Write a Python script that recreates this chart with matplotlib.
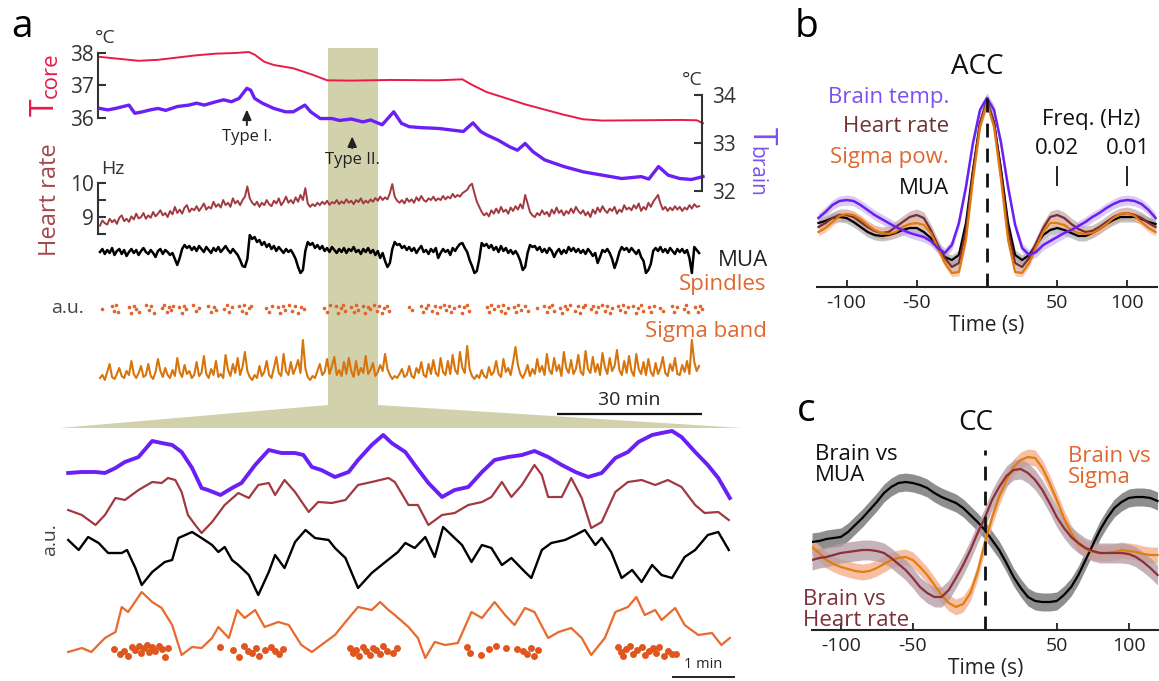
import matplotlib
matplotlib.use('Agg')
import matplotlib.pyplot as plt
from matplotlib.patches import Polygon

plt.rcParams['font.family'] = ['Open Sans', 'DejaVu Sans']
plt.rcParams['axes.unicode_minus'] = False

W, H = 1159, 681

# ---------------- panel a, top: 2 h recording (minutes) ----------------
tcore_t = [0, 4, 8, 12, 16, 20, 24, 28, 30.8, 32, 34, 36, 40, 44, 47, 52, 60, 70, 75, 77, 80,
           88, 96, 100, 104, 112, 120, 123.5, 124.8]
tcore_v = [37.88, 37.82, 37.76, 37.79, 37.86, 37.93, 37.98, 38.0, 38.03, 37.95, 37.73, 37.63,
           37.53, 37.33, 37.16, 37.15, 37.17, 37.16, 37.19, 37.02, 36.8, 36.42, 36.1, 35.96,
           35.92, 35.93, 35.94, 35.93, 35.84]

tbrain_t = [0, 1.6, 3.2, 4.8, 6.0, 7.2, 8.8, 10.4, 12.0, 13.6, 16.0, 18.4, 20.0, 21.6, 24.0,
            25.6, 27.2, 28.8, 30.4, 31.2, 32.0, 33.6, 36.0, 38.4, 40.0, 42.4, 43.6, 45.6, 48.0,
            49.6, 52.0, 54.4, 56.0, 58.4, 60.8, 62.4, 64.0, 66.4, 68.8, 70.4, 72.8, 75.2, 77.2,
            78.8, 80.0, 82.4, 84.8, 86.4, 88.0, 89.6, 92.0, 96.0, 100.0, 104.0, 108.0, 112.0,
            113.6, 115.6, 117.6, 120.0, 122.4, 124.8]
tbrain_v = [33.72, 33.69, 33.72, 33.76, 33.79, 33.62, 33.65, 33.69, 33.72, 33.68, 33.76, 33.79,
            33.83, 33.79, 33.86, 33.9, 33.86, 33.93, 34.14, 34.1, 33.93, 33.83, 33.72, 33.65,
            33.65, 33.79, 33.65, 33.51, 33.51, 33.47, 33.5, 33.44, 33.48, 33.38, 33.65, 33.41,
            33.34, 33.32, 33.31, 33.3, 33.27, 33.24, 33.42, 33.24, 33.17, 33.06, 32.92, 32.85,
            32.99, 32.82, 32.65, 32.51, 32.4, 32.33, 32.26, 32.3, 32.25, 32.51, 32.33, 32.26,
            32.24, 32.3]

half_minutes = [i * 0.5 for i in range(249)]
heart_hz = [8.75, 8.9, 8.82, 8.78, 8.95, 8.85, 8.92, 8.8, 8.98, 9.05, 8.88, 8.95, 8.86, 9.02, 8.93, 9.1, 8.96, 9.0, 9.12, 8.95,
            9.05, 8.98, 9.15, 9.02, 9.1, 9.2, 9.05, 9.12, 9.0, 9.18, 9.08, 9.3, 9.12, 9.22, 9.1, 9.28, 9.35, 9.15, 9.25, 9.2,
            9.32, 9.18, 9.28, 9.4, 9.22, 9.3, 9.25, 9.45, 9.3, 9.38, 9.28, 9.5, 9.35, 9.42, 9.3, 9.55, 9.4, 9.48, 9.35, 9.5,
            9.6, 9.9, 9.55, 9.42, 9.35, 9.45, 9.3, 9.42, 9.35, 9.5, 9.38, 9.32, 9.48, 9.4, 9.55, 9.35, 9.45, 9.6, 9.42, 9.5,
            9.4, 9.58, 9.45, 9.65, 9.5, 9.85, 9.4, 9.3, 9.38, 9.32, 9.42, 9.35, 9.45, 9.38, 9.48, 9.36, 9.44, 9.4, 9.5, 9.38,
            9.46, 9.4, 9.52, 9.42, 9.48, 9.38, 9.5, 9.44, 9.55, 9.4, 9.48, 9.42, 9.52, 9.45, 9.56, 9.48, 9.6, 9.5, 9.58, 9.52,
            9.7, 9.97, 9.6, 9.48, 9.42, 9.5, 9.4, 9.55, 9.45, 9.52, 9.42, 9.58, 9.48, 9.62, 9.5, 9.45, 9.55, 9.5, 9.6, 9.48,
            9.55, 9.5, 9.62, 9.52, 9.6, 9.55, 9.68, 9.58, 9.65, 9.6, 9.7, 9.75, 9.8, 9.92, 9.98, 9.7, 9.45, 9.3, 9.15, 9.05,
            9.12, 9.02, 9.2, 9.1, 9.25, 9.12, 9.3, 9.15, 9.22, 9.1, 9.28, 9.18, 9.32, 9.22, 9.38, 9.25, 9.65, 9.4, 9.15, 9.05,
            9.0, 9.12, 9.05, 9.2, 9.08, 9.15, 9.02, 9.22, 9.1, 9.28, 9.12, 9.2, 9.05, 9.18, 9.1, 9.25, 9.12, 9.3, 9.18, 9.1,
            9.2, 9.05, 9.15, 9.0, 9.22, 9.1, 9.28, 9.15, 9.32, 9.2, 9.12, 9.25, 9.18, 9.3, 9.1, 9.22, 9.15, 9.35, 9.22, 9.28,
            9.2, 9.35, 9.25, 9.4, 9.18, 9.3, 9.22, 9.42, 9.3, 9.45, 9.55, 9.65, 9.4, 9.22, 9.3, 9.18, 9.28, 9.2, 9.32, 9.22,
            9.3, 9.18, 9.28, 9.22, 9.35, 9.25, 9.38, 9.3, 9.32]

mua = [0.3, 0.6, 0.1, 0.5, 0.2, 0.7, 0.0, 0.4, 0.6, 0.1, 0.5, -0.1, 0.3, 0.6, 0.2, 0.5, 0.0, 0.4, 0.7, 0.3,
       0.1, 0.5, 0.2, -0.2, 0.4, 0.6, 0.1, 0.5, 0.3, 0.0, 0.2, -0.4, -1.0, -0.3, 0.6, 1.0, 0.7, 0.9, 0.5, 0.8,
       0.4, 0.9, 0.6, 0.3, 0.8, 0.5, 0.2, 0.7, 0.4, 0.8, 0.3, 0.6, 0.9, 0.5, 0.2, 0.6, 0.3, 0.0, -0.5, -1.1,
       -1.2, -0.4, 2.0, 1.6, 1.8, 1.3, 1.5, 1.0, 1.3, 0.8, 1.1, 0.6, 0.9, 0.4, 0.8, 0.5, 0.2, 0.6, 0.3, 0.5,
       0.1, -0.4, -1.2, -1.8, -1.5, 0.4, 1.3, 1.0, 1.2, 0.7, 1.0, 0.6, 0.9, 0.4, 0.7, 0.3, 0.8, 0.5, 0.2, 0.6,
       0.3, 0.7, 0.2, 0.6, 0.4, 0.8, 0.3, 0.5, 0.1, 0.6, 0.3, 0.7, 0.2, 0.5, 0.0, 0.4, -0.3, 0.2, -0.6, -1.2,
       -0.8, 0.6, 1.3, 1.0, 1.1, 0.7, 0.9, 0.5, 0.8, 0.4, 0.7, 0.2, 0.6, 0.9, 0.3, 0.5, 0.1, 0.6, 0.3, 0.7,
       -0.3, 0.2, 0.6, 0.3, 0.5, 0.0, 0.7, 0.4, 0.8, 1.1, 1.2, 0.7, 0.3, -0.5, -1.1, -1.8, -1.6, -0.4, 1.2, 0.9,
       1.1, 0.7, 1.0, 0.5, 0.8, 0.3, 0.9, 0.4, 0.7, 0.2, 0.5, 0.1, 0.4, 0.0, -0.6, -1.5, -1.2, 0.2, 1.0, 0.8,
       0.9, 0.5, 0.8, 0.3, 0.6, 0.2, 0.7, 0.4, -0.2, 0.3, 0.6, 0.1, 0.5, 0.2, 0.8, 0.4, 0.7, 0.3, 0.6, 0.2,
       0.5, 0.1, 0.6, 0.3, -0.1, 0.2, -0.8, -0.2, 0.5, 0.3, 0.6, 0.2, -0.4, -1.3, -0.6, 0.3, 0.8, 0.5, 0.7, 0.3,
       0.7, 0.4, 0.1, 0.5, -0.2, -0.6, -1.8, -1.5, -0.9, 0.4, 0.7, 0.4, 0.8, 0.3, 0.6, 0.2, 0.7, 0.4, 0.1, 0.6,
       0.3, 0.6, 0.2, 0.5, -0.3, -1.8, 0.8, 0.5, 0.2]

sigma = [0.2, 0.5, 0.0, 0.8, 1.6, 0.3, 0.1, 0.6, 1.2, 0.4, 0.2, 0.9, 0.5, 1.9, 0.6, 0.2, 0.7, 1.4, 0.3, 0.5,
         1.6, 0.4, 0.1, 0.8, 2.1, 0.9, 0.3, 1.2, 0.5, 0.2, 1.0, 0.4, 2.2, 0.8, 0.3, 1.5, 0.6, 0.9, 0.2, 0.5,
         1.8, 0.4, 0.7, 2.4, 0.6, 0.2, 1.1, 0.5, 1.9, 0.3, 0.6, 0.2, 2.5, 1.0, 0.4, 1.6, 0.7, 2.2, 0.5, 1.3,
         2.8, 0.9, 0.3, 0.0, 0.5, 0.2, 1.4, 0.4, 0.8, 1.9, 0.5, 0.2, 1.2, 2.3, 0.7, 0.4, 2.6, 0.9, 0.5, 1.8,
         0.6, 1.2, 2.0, 0.7, 4.0, 1.2, 0.3, 0.0, 0.4, 0.2, 0.9, 1.6, 0.5, 0.8, 2.1, 0.6, 1.4, 2.3, 0.5, 1.0,
         0.4, 1.8, 0.6, 2.2, 0.9, 0.3, 1.9, 0.5, 1.2, 0.7, 2.4, 0.6, 1.0, 1.7, 0.4, 0.8, 1.5, 0.9, 2.6, 1.1,
         0.5, 0.1, 0.4, 0.2, 0.6, 1.1, 0.3, 0.5, 1.4, 0.4, 0.2, 1.2, 0.7, 1.8, 0.5, 0.3, 1.6, 0.6, 2.0, 0.7,
         0.4, 2.2, 0.8, 0.5, 1.9, 0.6, 2.5, 1.0, 0.6, 2.8, 1.2, 0.7, 3.4, 1.1, 0.4, 0.1, 0.5, 0.2, 1.0, 0.4,
         0.2, 1.3, 0.5, 0.8, 1.9, 0.6, 0.3, 2.1, 0.8, 1.2, 0.5, 1.8, 3.3, 1.5, 0.6, 0.2, 0.7, 1.5, 0.4, 1.1,
         0.6, 2.1, 0.8, 1.4, 0.5, 2.6, 1.0, 0.6, 2.2, 0.9, 1.5, 0.4, 2.8, 1.2, 0.7, 2.0, 0.6, 1.1, 2.5, 0.8,
         0.5, 2.9, 1.1, 0.7, 2.3, 0.8, 1.6, 0.5, 2.7, 1.3, 0.6, 2.2, 0.9, 1.4, 3.0, 1.0, 0.5, 1.9, 0.7, 2.4,
         0.9, 0.4, 2.6, 1.1, 0.6, 1.8, 0.5, 2.1, 0.8, 0.4, 1.7, 0.6, 1.2, 2.3, 0.7, 0.4, 1.6, 0.9, 2.2, 0.6,
         0.5, 1.5, 0.8, 1.9, 0.6, 4.0, 1.8, 0.9, 1.4]

spindle_t = [0.4, 2.4, 2.9, 3.4, 3.8, 6.0, 6.5, 7.0, 7.5, 8.0, 9.6, 10.1, 10.6, 11.1,
             12.8, 13.3, 13.8, 14.3, 14.8, 15.2, 16.4, 16.9, 17.4, 17.9, 19.2, 19.8, 20.4,
             22.4, 22.9, 23.5, 24.0, 25.6, 26.2, 26.8, 27.4, 28.8, 29.3, 29.8, 30.3, 30.8, 31.3,
             34.4, 35.0, 35.6, 36.8, 37.3, 37.8, 38.3, 39.2, 39.8, 40.4, 41.0, 41.6, 42.2,
             46.4, 47.0, 47.6, 48.8, 49.3, 49.8, 50.3, 50.8, 52.0, 52.5, 53.0, 53.5,
             54.4, 54.9, 55.4, 55.9, 56.8, 57.3, 57.8, 58.3, 58.8, 59.4, 59.9, 64.0, 64.6,
             66.4, 66.9, 67.4, 67.9, 68.8, 69.3, 69.8, 70.3, 71.2, 71.7, 72.2, 72.7, 73.2,
             74.4, 74.9, 75.4, 75.9, 76.4, 80.0, 80.5, 81.0, 81.5, 82.4, 82.9, 83.4, 83.9, 84.4,
             85.6, 86.1, 86.6, 87.1, 88.0, 88.6, 90.4, 92.0, 92.5, 93.0, 93.5, 94.0,
             95.2, 95.7, 96.2, 96.7, 97.2, 98.4, 98.9, 99.4, 99.9, 100.4, 101.6, 102.1, 102.6, 103.1,
             104.0, 104.5, 105.0, 105.5, 106.0, 107.2, 107.7, 108.2, 108.7, 109.2,
             110.4, 110.9, 111.4, 111.9, 112.4, 113.6, 114.1, 114.6, 116.0, 116.6,
             118.4, 118.9, 119.4, 120.8, 121.3, 121.8, 123.2, 123.7, 124.2, 124.6]
spindle_y = [0.0, 0.3, -0.2, 0.4, -0.3, 0.2, -0.4, 0.3, 0.0, -0.3, 0.4, -0.1, 0.3, -0.4,
             0.1, 0.4, -0.3, 0.2, -0.1, 0.3, 0.2, -0.4, 0.3, 0.0, 0.4, -0.2, 0.1,
             0.3, -0.3, 0.2, -0.1, 0.0, 0.4, -0.3, 0.2, 0.3, -0.2, 0.4, -0.4, 0.1, 0.3,
             0.1, -0.3, 0.3, 0.2, -0.4, 0.3, -0.1, 0.4, -0.2, 0.3, -0.4, 0.2, 0.0,
             0.1, -0.3, 0.4, 0.3, -0.4, 0.1, 0.4, -0.2, 0.2, -0.3, 0.4, -0.1,
             0.3, -0.4, 0.2, 0.0, 0.4, -0.2, 0.3, -0.4, 0.1, 0.3, -0.2, 0.2, -0.1,
             0.3, -0.3, 0.1, 0.4, -0.2, 0.3, -0.4, 0.2, 0.4, -0.1, 0.3, -0.3, 0.1,
             0.3, -0.4, 0.2, 0.4, -0.2, 0.2, -0.3, 0.4, 0.0, 0.3, -0.2, 0.4, -0.4, 0.1,
             0.2, -0.3, 0.4, -0.1, 0.3, -0.2, 0.1, 0.3, -0.3, 0.2, 0.4, -0.2,
             0.1, -0.4, 0.3, 0.0, 0.4, -0.2, 0.3, -0.4, 0.2, 0.4, 0.0, 0.3, -0.3, 0.2,
             0.4, -0.2, 0.3, -0.4, 0.1, 0.3, -0.1, 0.4, -0.3, 0.2,
             0.3, -0.4, 0.1, 0.4, -0.2, 0.2, -0.3, 0.3, 0.1, -0.2,
             0.3, -0.3, 0.2, 0.0, 0.4, -0.3, 0.2, -0.3, 0.3, 0.0]

zoom_window = (47.2, 57.6)   # minutes shown enlarged below

# ---------------- panel a, bottom: 10 min zoom (seconds) ----------------
purple_t = [3, 16, 29, 38, 48, 57, 70, 83, 92, 102, 111, 121, 130, 136, 148, 159, 168, 181, 194,
            206, 219, 227, 235, 244, 257, 270, 279, 292, 303, 311, 324, 333, 346, 359, 371, 384,
            397, 409, 422, 435, 447, 460, 473, 486, 498, 511, 524, 536, 546, 559, 568, 578, 587,
            600, 612, 622, 633]
purple_v = [-0.8, -0.7, -0.7, -0.8, -0.3, 0.3, 0.8, 2.4, 2.2, 2.0, 1.3, -0.3, -2.3, -2.5, -3.0,
            -2.3, -1.8, 0.0, 1.5, 1.2, 1.2, 1.0, -0.2, -0.5, -1.2, -0.7, 0.5, 2.0, 3.0, 2.2,
            1.3, 0.0, -1.8, -3.2, -2.5, -2.2, -0.7, 0.5, 0.8, 1.0, 1.4, 0.8, 0.0, -0.7, -1.2,
            -0.8, 0.7, 1.3, 2.3, 3.0, 3.2, 3.4, 2.8, 1.3, 0.0, -1.3, -3.3]

brown_t = [3, 16, 29, 38, 48, 57, 70, 83, 92, 98, 105, 111, 117, 124, 130, 140, 152, 165, 175,
           184, 194, 200, 209, 219, 232, 241, 254, 267, 279, 292, 308, 314, 327, 336, 346, 359,
           371, 384, 397, 406, 416, 425, 435, 447, 454, 460, 473, 482, 492, 501, 511, 524, 536,
           549, 562, 574, 587, 600, 609, 622, 632]
brown_v = [-1.0, -1.5, -2.5, -1.5, 0.2, 0.0, 1.0, 1.8, 1.7, 2.2, 2.0, 0.8, -1.5, -2.5, -3.3,
           -2.2, -0.5, 0.7, 0.2, 1.5, 1.7, 0.5, 2.0, 0.8, -1.2, -0.2, -0.3, 0.0, 1.5, 1.8,
           2.2, 1.8, -0.5, -0.5, -2.5, -1.5, -1.3, -0.5, -0.2, 0.3, 1.8, 0.3, 1.5, 3.5, 2.5,
           0.3, 0.3, 2.2, 0.2, -2.8, -2.2, 0.8, 1.8, 2.0, 1.5, 2.0, 1.3, -0.5, -1.3, -1.2, -2.0]

black_t = [3, 13, 22, 32, 41, 54, 59, 67, 73, 83, 95, 102, 108, 121, 130, 140, 146, 152, 159,
           165, 175, 184, 194, 200, 209, 219, 229, 238, 251, 257, 267, 279, 292, 305, 317, 324,
           333, 343, 352, 360, 368, 378, 387, 397, 406, 416, 425, 438, 444, 454, 463, 476, 486,
           495, 505, 511, 520, 530, 540, 549, 559, 568, 578, 590, 600, 612, 622, 632]
black_v = [2.0, 1.0, 2.3, 1.7, 0.7, 0.7, 1.0, -0.8, -2.5, -1.2, -0.2, 0.0, 2.2, 2.8, 2.2, 1.5,
           0.8, 1.3, 0.0, -0.5, -1.5, -3.5, -1.2, 0.5, -0.8, 1.8, 3.0, 2.2, 2.0, 1.2, 0.2, -2.8,
           -1.3, -0.2, 0.8, 1.7, 1.2, 2.3, 0.3, 3.3, 2.5, 1.5, -0.2, 1.5, 1.2, -0.5, 0.2, -1.2,
           -1.8, 1.0, 1.7, 2.0, 2.5, 3.0, 1.5, 2.2, 0.8, -1.8, -1.0, -2.2, -0.5, -1.5, -1.8,
           0.3, 1.0, 2.5, 2.8, 1.0]

orange_t = [3, 16, 25, 38, 48, 54, 60, 73, 83, 92, 102, 111, 121, 130, 140, 146, 156, 164, 171,
            181, 190, 203, 213, 225, 235, 244, 257, 267, 279, 292, 300, 308, 314, 327, 336, 343,
            352, 362, 374, 387, 397, 409, 419, 428, 438, 447, 460, 470, 482, 492, 501, 514, 524,
            536, 544, 552, 562, 568, 581, 590, 603, 616, 625, 633]
orange_v = [-2.7, -2.3, -2.7, -1.3, -0.7, 1.8, 1.3, 3.3, 2.3, 1.7, 0.0, -3.0, -2.2, -2.3, -1.3,
            -0.2, -1.3, 1.5, 0.7, 1.5, -0.2, 0.3, 0.0, -2.0, -2.7, -2.0, -1.0, 0.3, 1.8, 1.5,
            2.3, 1.5, 1.0, -0.2, -1.3, -3.3, -1.7, -2.0, -1.8, 1.3, 0.7, 2.3, 1.0, 0.0, 1.7,
            1.3, -1.3, -0.7, -0.3, -1.3, -3.0, -1.3, 1.3, 1.8, 2.8, 1.0, 1.5, 0.5, 1.7, 0.0,
            -1.0, -0.8, -2.0, -1.3]

zspindle_t = [47, 52, 56, 60, 64, 67, 70, 72, 75, 78, 80, 83, 86, 89, 92, 95, 98,
              148, 160, 166, 170, 174, 178, 182, 185, 190, 196, 200, 204, 208,
              271, 274, 277, 280, 284, 287, 290, 293, 296, 300, 303, 307, 312, 316,
              383, 386, 396, 404, 410, 420, 430, 436, 440, 444, 447, 450,
              527, 529, 531, 534, 538, 541, 545, 549, 552, 556, 560, 563, 566, 570, 574, 578, 582]
zspindle_y = [0.2, -0.3, 0.0, -0.5, 0.4, 0.1, 0.5, -0.2, 0.3, 0.6, -0.1, 0.4, 0.0, 0.5, 0.2, -0.6, 0.3,
              0.4, 0.1, -0.6, 0.5, 0.0, -0.2, 0.3, -0.5, 0.1, 0.4, 0.0, -0.3, 0.2,
              0.3, -0.2, 0.1, -0.5, 0.4, 0.0, -0.4, 0.3, 0.1, -0.3, 0.5, 0.0, -0.2, 0.3,
              0.4, -0.2, -0.4, 0.2, 0.5, 0.3, 0.2, 0.0, -0.3, 0.3, -0.5, 0.1,
              0.4, -0.1, -0.5, 0.2, 0.5, -0.3, 0.1, 0.4, -0.4, 0.0, 0.3, -0.2, 0.4, -0.5, 0.0, -0.3, -0.3]

# ---------------- panels b and c: lags (s) ----------------
lags = list(range(-120, 121, 5))
acc_brain = [-0.18, -0.12, -0.05, -0.01, 0.0, -0.01, -0.05, -0.10, -0.15, -0.19, -0.23, -0.27,
             -0.30, -0.33, -0.35, -0.37, -0.41, -0.48, -0.53, -0.45, -0.23, 0.13, 0.57, 0.90,
             1.02, 0.90, 0.57, 0.13, -0.25, -0.48, -0.55, -0.52, -0.45, -0.41, -0.37, -0.33,
             -0.30, -0.26, -0.22, -0.17, -0.13, -0.08, -0.04, -0.01, 0.0, -0.01, -0.04, -0.10, -0.18]
acc_heart = [-0.27, -0.23, -0.18, -0.15, -0.15, -0.17, -0.22, -0.27, -0.31, -0.33, -0.32, -0.27,
             -0.22, -0.17, -0.15, -0.18, -0.30, -0.45, -0.58, -0.67, -0.63, -0.30, 0.27, 0.77,
             1.00, 0.77, 0.27, -0.30, -0.63, -0.67, -0.58, -0.43, -0.28, -0.17, -0.15, -0.18,
             -0.24, -0.29, -0.32, -0.31, -0.27, -0.22, -0.17, -0.14, -0.13, -0.15, -0.18, -0.23, -0.27]
acc_sigma = [-0.32, -0.28, -0.22, -0.16, -0.14, -0.15, -0.19, -0.25, -0.30, -0.33, -0.34, -0.32,
             -0.27, -0.24, -0.23, -0.25, -0.33, -0.48, -0.63, -0.73, -0.72, -0.40, 0.20, 0.73,
             0.97, 0.73, 0.20, -0.40, -0.72, -0.73, -0.63, -0.47, -0.32, -0.23, -0.23, -0.25,
             -0.30, -0.33, -0.34, -0.33, -0.29, -0.24, -0.18, -0.14, -0.13, -0.16, -0.22, -0.28, -0.32]
acc_mua = [-0.23, -0.21, -0.18, -0.17, -0.18, -0.22, -0.27, -0.32, -0.35, -0.36, -0.35, -0.33,
           -0.30, -0.28, -0.28, -0.32, -0.38, -0.48, -0.57, -0.60, -0.55, -0.23, 0.30, 0.77,
           0.98, 0.77, 0.30, -0.23, -0.55, -0.60, -0.55, -0.45, -0.35, -0.30, -0.28, -0.30,
           -0.33, -0.36, -0.36, -0.33, -0.29, -0.24, -0.20, -0.17, -0.17, -0.17, -0.19, -0.22, -0.24]
acc_err = {'brain': 0.05, 'heart': 0.06, 'sigma': 0.04, 'mua': 0.05}

cc_mua = [-0.07, -0.06, -0.04, -0.03, -0.02, 0.03, 0.10, 0.17, 0.25, 0.33, 0.42, 0.48, 0.52,
          0.53, 0.52, 0.50, 0.47, 0.42, 0.38, 0.35, 0.32, 0.27, 0.20, 0.13, 0.05, -0.05, -0.15,
          -0.28, -0.42, -0.53, -0.62, -0.66, -0.67, -0.67, -0.66, -0.60, -0.52, -0.40, -0.25,
          -0.10, 0.05, 0.17, 0.27, 0.33, 0.37, 0.38, 0.38, 0.37, 0.34]
cc_sigma = [-0.12, -0.18, -0.25, -0.29, -0.32, -0.34, -0.36, -0.37, -0.36, -0.33, -0.29, -0.25,
            -0.23, -0.22, -0.25, -0.32, -0.40, -0.50, -0.60, -0.68, -0.72, -0.69, -0.58, -0.37,
            -0.08, 0.17, 0.38, 0.55, 0.68, 0.75, 0.78, 0.77, 0.67, 0.52, 0.35, 0.17, 0.02, -0.09,
            -0.14, -0.17, -0.18, -0.18, -0.17, -0.15, -0.16, -0.17, -0.19, -0.20, -0.20]
cc_heart = [-0.25, -0.23, -0.22, -0.20, -0.18, -0.17, -0.16, -0.15, -0.15, -0.16, -0.18, -0.23,
            -0.29, -0.35, -0.43, -0.52, -0.58, -0.62, -0.62, -0.55, -0.43, -0.30, -0.15, 0.02,
            0.17, 0.35, 0.48, 0.59, 0.65, 0.66, 0.62, 0.55, 0.45, 0.32, 0.18, 0.07, -0.02, -0.08,
            -0.13, -0.16, -0.18, -0.18, -0.18, -0.18, -0.19, -0.22, -0.27, -0.33, -0.40]
cc_err = {'mua': 0.09, 'sigma': 0.08, 'heart': 0.10}

# ---------------- colours ----------------
c_core = '#ea1a47'
c_brain = '#6a1ff5'
c_brain_txt = '#7a50f2'
c_heart = '#a13a40'
c_heart_dark = '#7a2c30'
c_sigma = '#d8740c'
c_spin = '#e0652c'
c_orange_txt = '#e0672e'
c_zsigma = '#e86a2c'
c_khaki = '#d1d1ac'
c_axis = '#333333'

fig = plt.figure(figsize=(W / 100, H / 100), dpi=100)


def box(x0, y0, x1, y1, z=1):
    a = fig.add_axes([x0 / W, 1 - y1 / H, (x1 - x0) / W, (y1 - y0) / H], zorder=z)
    a.patch.set_alpha(0)
    return a


def ftext(x, y, s, **kw):
    fig.text(x / W, 1 - y / H, s, **kw)


def clean(a, keep=()):
    for k in ['left', 'right', 'top', 'bottom']:
        a.spines[k].set_visible(k in keep)
        a.spines[k].set_color(c_axis)
        a.spines[k].set_linewidth(1.5)
    a.set_xticks([])


tlim = (-0.41, 124.6)

# shaded window behind the top traces
ax_sh = box(98, 48, 702, 405, z=0)
ax_sh.set_xlim(tlim)
ax_sh.set_ylim(0, 1)
ax_sh.axis('off')
ax_sh.axvspan(*zoom_window, color=c_khaki, lw=0)

# temperatures
ax_t = box(98, 40, 702, 195)
ax_t.set_xlim(tlim)
ax_t.set_ylim(33.63, 38.4)
clean(ax_t, keep=('left',))
ax_t.spines['left'].set_bounds(36, 38)
ax_t.set_yticks([36, 37, 38])
ax_t.tick_params(axis='y', direction='in', length=6, width=1.5, color=c_axis,
                 labelsize=15, labelcolor=c_axis, pad=3)
ax_t.plot(tcore_t, tcore_v, color=c_core, lw=1.4, clip_on=False)

ax_tb = ax_t.twinx()
ax_tb.set_xlim(tlim)
ax_tb.set_ylim(31.917, 35.146)
clean(ax_tb, keep=('right',))
ax_tb.spines['right'].set_bounds(32, 34)
ax_tb.set_yticks([32, 33, 34])
ax_tb.tick_params(axis='y', direction='in', length=6, width=1.5, color=c_axis,
                  labelsize=15, labelcolor=c_axis, pad=7)
ax_tb.plot(tbrain_t, tbrain_v, color=c_brain, lw=2.4, clip_on=False)

arrow = dict(arrowstyle='-|>,head_length=0.5,head_width=0.22', color='#222222', lw=1.4,
             shrinkA=1, shrinkB=0)
ax_tb.annotate('Type I.', xy=(30.4, 33.7), xytext=(30.4, 33.12), ha='center', va='center',
               fontsize=12, color='#222222', arrowprops=arrow)
ax_tb.annotate('Type II.', xy=(52.2, 33.14), xytext=(52.2, 32.64), ha='center', va='center',
               fontsize=12, color='#222222', arrowprops=arrow)

# heart rate
ax_h = box(98, 150, 702, 245)
ax_h.set_xlim(tlim)
ax_h.set_ylim(8.18, 10.97)
clean(ax_h, keep=('left',))
ax_h.spines['left'].set_bounds(8.5, 10)
ax_h.set_yticks([8.5, 9, 9.5, 10])
ax_h.set_yticklabels(['', '9', '', '10'])
ax_h.tick_params(axis='y', direction='in', length=6, width=1.5, color=c_axis,
                 labelsize=15, labelcolor=c_axis, pad=3)
ax_h.plot(half_minutes, heart_hz, color=c_heart, lw=1.4, clip_on=False)

# MUA, spindles, sigma (a.u.)
ax_u = box(98, 230, 702, 420)
ax_u.set_xlim(tlim)
ax_u.set_ylim(0, 19)
ax_u.axis('off')
ax_u.plot(half_minutes, [v + 16.5 for v in mua], color='black', lw=1.8, clip_on=False)
ax_u.plot(spindle_t, [v + 11.1 for v in spindle_y], 'o', color=c_spin, ms=2.6, mew=0,
          clip_on=False)
ax_u.plot(half_minutes, [v + 4.0 for v in sigma], color=c_sigma, lw=1.5, clip_on=False)
ax_u.plot([94.6, 124.5], [0.6, 0.6], color='#111111', lw=1.6, solid_capstyle='butt')
ax_u.text(109.6, 2.0, '30 min', ha='center', va='center', fontsize=14, color='#222222')

# zoomed traces
zlim = (-4.8, 644.6)
ax_z = box(60, 428, 742, 680)
ax_z.set_xlim(zlim)
ax_z.set_ylim(0, 25.2)
ax_z.axis('off')
ax_z.plot(purple_t, [v + 21.5 for v in purple_v], color=c_brain, lw=2.8)
ax_z.plot(brown_t, [v + 18.0 for v in brown_v], color=c_heart, lw=1.6)
ax_z.plot(black_t, [v + 12.0 for v in black_v], color='black', lw=1.7)
ax_z.plot(orange_t, [v + 5.5 for v in orange_v], color=c_zsigma, lw=1.6)
ax_z.plot(zspindle_t, [v + 2.9 for v in zspindle_y], 'o', color='#df561e', ms=5, mew=0)
ax_z.plot([578, 638], [0.3, 0.3], color='#111111', lw=1.3, solid_capstyle='butt')
ax_z.text(608, 1.6, '1 min', ha='center', va='center', fontsize=10.5, color='#222222')

# funnel joining the shaded window with the zoom
to_fig = fig.transFigure.inverted()
p1 = to_fig.transform(ax_sh.transData.transform((zoom_window[0], 0)))
p2 = to_fig.transform(ax_sh.transData.transform((zoom_window[1], 0)))
p3 = to_fig.transform(ax_z.transData.transform((zlim[1], 25.2)))
p4 = to_fig.transform(ax_z.transData.transform((zlim[0], 25.2)))
fig.patches.append(Polygon([p1, p2, p3, p4], closed=True, transform=fig.transFigure,
                           facecolor=c_khaki, edgecolor='none', zorder=0))

# panel a labels
ftext(22, 27, 'a', fontsize=28, ha='center', va='center', color='black')
ftext(95, 38, '°C', fontsize=14, ha='left', va='center', color=c_axis)
ftext(703, 80, '°C', fontsize=14, ha='right', va='center', color=c_axis)
ftext(62, 116, 'T', fontsize=23, rotation=90, ha='right', va='bottom', color=c_core)
ftext(62, 98, 'core', fontsize=16, rotation=90, ha='right', va='bottom', color=c_core)
ftext(745, 127, 'T', fontsize=23, rotation=270, ha='left', va='top', color=c_brain_txt)
ftext(745, 146, 'brain', fontsize=15, rotation=270, ha='left', va='top', color=c_brain_txt)
ftext(101, 169, 'Hz', fontsize=14, ha='left', va='center', color=c_axis)
ftext(50, 200, 'Heart rate', fontsize=17, rotation=90, ha='center', va='center', color='#a4464b')
ftext(718, 260, 'MUA', fontsize=16, ha='left', va='center', color='#222222')
ftext(766, 285, 'Spindles', fontsize=16, ha='right', va='center', color=c_orange_txt)
ftext(67, 308, 'a.u.', fontsize=14, ha='center', va='center', color='#444444')
ftext(767, 331, 'Sigma band', fontsize=16, ha='right', va='center', color=c_orange_txt)
ftext(50, 540, 'a.u.', fontsize=14, rotation=90, ha='center', va='center', color='#444444')

# ---------------- panel b ----------------
ax_b = box(817, 85, 1157, 287)
ax_b.set_xlim(-121, 121)
ax_b.set_ylim(-0.87, 1.15)
for k in ['left', 'right', 'top']:
    ax_b.spines[k].set_visible(False)
ax_b.spines['bottom'].set_linewidth(1.5)
ax_b.spines['bottom'].set_color('#222222')
ax_b.set_yticks([])
ax_b.set_xticks([-100, -50, 50, 100])
ax_b.tick_params(axis='x', direction='in', length=5, width=1.3, labelsize=14, pad=5,
                 labelcolor='#222222', color='#222222')
ax_b.set_xlabel('Time (s)', fontsize=15, labelpad=2, color='#222222')

e = acc_err
ax_b.fill_between(lags, [v - e['mua'] for v in acc_mua], [v + e['mua'] for v in acc_mua],
                  color='#9c9c9c', alpha=0.6, lw=0)
ax_b.fill_between(lags, [v - e['heart'] for v in acc_heart], [v + e['heart'] for v in acc_heart],
                  color='#b39a9a', alpha=0.6, lw=0)
ax_b.fill_between(lags, [v - e['sigma'] for v in acc_sigma], [v + e['sigma'] for v in acc_sigma],
                  color='#f6b999', alpha=0.7, lw=0)
ax_b.plot(lags, acc_mua, color='black', lw=1.6)
ax_b.plot(lags, acc_heart, color=c_heart_dark, lw=1.6)
ax_b.plot(lags, acc_sigma, color='#e07a0e', lw=1.6)
ax_b.fill_between(lags, [v - e['brain'] for v in acc_brain], [v + e['brain'] for v in acc_brain],
                  color='#c3a8ee', alpha=0.6, lw=0)
ax_b.plot(lags, acc_brain, color=c_brain, lw=1.8)
ax_b.plot([0, 0], [-0.87, 1.12], color='#111111', lw=2, dashes=(5, 4), clip_on=False)
ax_b.plot([50, 50], [0.15, 0.33], color='#222222', lw=1.4)
ax_b.plot([100, 100], [0.15, 0.33], color='#222222', lw=1.4)

ax_b.text(-7, 1.33, 'ACC', fontsize=20, ha='center', va='center', color='#111111')
ax_b.text(-27, 1.03, 'Brain temp.', fontsize=16, ha='right', va='center', color=c_brain_txt)
ax_b.text(-27, 0.73, 'Heart rate', fontsize=16, ha='right', va='center', color='#6e3434')
ax_b.text(-27, 0.43, 'Sigma pow.', fontsize=16, ha='right', va='center', color=c_orange_txt)
ax_b.text(-27, 0.11, 'MUA', fontsize=16, ha='right', va='center', color='#111111')
ax_b.text(74, 0.81, 'Freq. (Hz)', fontsize=16, ha='center', va='center', color='#111111')
ax_b.text(50, 0.52, '0.02', fontsize=16, ha='center', va='center', color='#111111')
ax_b.text(100, 0.52, '0.01', fontsize=16, ha='center', va='center', color='#111111')
ftext(806, 27, 'b', fontsize=28, ha='center', va='center', color='black')

# ---------------- panel c ----------------
ax_c = box(812, 440, 1159, 630)
ax_c.set_xlim(-120, 121)
ax_c.set_ylim(-0.95, 0.95)
for k in ['left', 'right', 'top']:
    ax_c.spines[k].set_visible(False)
ax_c.spines['bottom'].set_linewidth(1.5)
ax_c.spines['bottom'].set_color('#222222')
ax_c.set_yticks([])
ax_c.set_xticks([-100, -50, 50, 100])
ax_c.tick_params(axis='x', direction='in', length=5, width=1.3, labelsize=14, pad=5,
                 labelcolor='#222222', color='#222222')
ax_c.set_xlabel('Time (s)', fontsize=15, labelpad=2, color='#222222')

e = cc_err
ax_c.fill_between(lags, [v - e['mua'] for v in cc_mua], [v + e['mua'] for v in cc_mua],
                  color='#7a7a7a', alpha=0.85, lw=0)
ax_c.plot(lags, cc_mua, color='black', lw=1.6)
ax_c.fill_between(lags, [v - e['sigma'] for v in cc_sigma], [v + e['sigma'] for v in cc_sigma],
                  color='#f4b08e', alpha=0.8, lw=0)
ax_c.plot(lags, cc_sigma, color='#e07e10', lw=1.6)
ax_c.fill_between(lags, [v - e['heart'] for v in cc_heart], [v + e['heart'] for v in cc_heart],
                  color='#b49aa2', alpha=0.75, lw=0)
ax_c.plot(lags, cc_heart, color='#8e2f3a', lw=1.6)
ax_c.plot([0, 0], [-0.95, 0.85], color='#111111', lw=2, dashes=(5, 4), clip_on=False)

ax_c.text(-6.6, 1.12, 'CC', fontsize=20, ha='center', va='center', color='#111111')
ax_c.text(-118, 0.91, 'Brain vs\nMUA', fontsize=16, ha='left', va='top', linespacing=1.0,
          color='#111111')
ax_c.text(57.6, 0.89, 'Brain vs\nSigma', fontsize=16, ha='left', va='top', linespacing=1.0,
          color=c_orange_txt)
ax_c.text(-126, -0.54, 'Brain vs\nHeart rate', fontsize=16, ha='left', va='top',
          linespacing=1.0, color='#7e2f38')
ftext(806, 411, 'c', fontsize=28, ha='center', va='center', color='black')

fig.savefig('out.png', dpi=100)
